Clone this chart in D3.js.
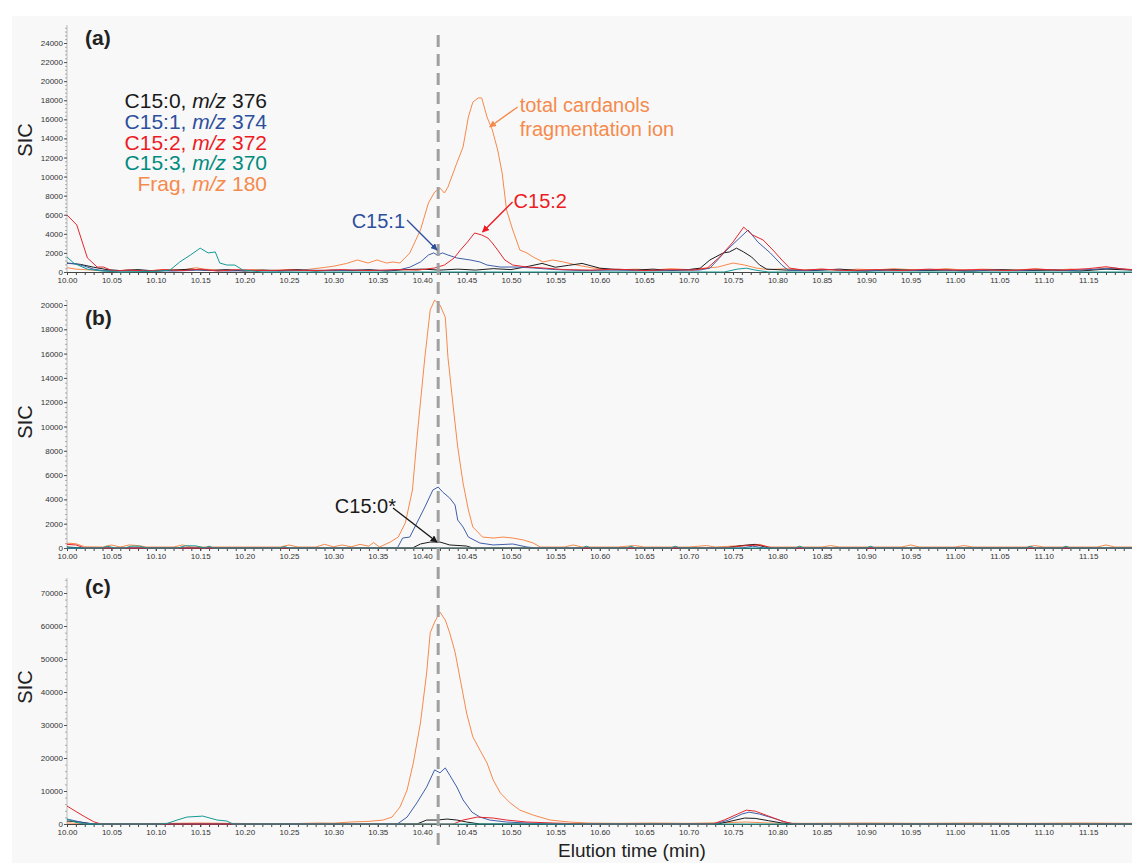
<!DOCTYPE html>
<html>
<head>
<meta charset="utf-8">
<script src="https://cdn.jsdelivr.net/npm/d3@7"></script>
<style>
body { margin: 0; background: #fff; }
svg { display: block; font-family: "Liberation Sans", Arial, sans-serif; }
.tick text { font-family: "Liberation Sans Narrow", "Liberation Sans", Arial, sans-serif; font-size: 8px; fill: #333; }
</style>
</head>
<body>
<svg id="chart" width="1132" height="863"></svg>
<script>
// ---- data: [elution time (min), SIC counts] ----
// panel (a)
const fragA = [[10.00,450],[10.01,300],[10.02,250],[10.035,150],[10.05,100],[10.07,200],[10.09,120],[10.11,250],[10.13,200],[10.145,450],[10.155,300],[10.17,200],[10.19,150],[10.21,250],[10.23,150],[10.25,250],[10.265,200],[10.285,420],[10.30,600],[10.315,900],[10.327,1260],[10.339,940],[10.349,1260],[10.360,940],[10.367,1050],[10.375,940],[10.386,1990],[10.398,4400],[10.407,7230],[10.414,8380],[10.420,8800],[10.425,8280],[10.429,8900],[10.439,11420],[10.446,13100],[10.452,16240],[10.457,17800],[10.463,18240],[10.467,18240],[10.473,16240],[10.479,14880],[10.485,12790],[10.490,10380],[10.495,6500],[10.502,4400],[10.510,2300],[10.518,1990],[10.525,1570],[10.536,1050],[10.547,1260],[10.559,1050],[10.574,730],[10.592,420],[10.619,210],[10.64,300],[10.66,200],[10.68,350],[10.70,250],[10.717,400],[10.733,520],[10.750,940],[10.763,730],[10.777,400],[10.79,250],[10.81,350],[10.83,200],[10.85,300],[10.87,150],[10.89,300],[10.91,200],[10.93,350],[10.95,250],[10.97,200],[10.99,350],[11.01,200],[11.03,300],[11.05,250],[11.07,200],[11.09,350],[11.11,200],[11.13,300],[11.15,200],[11.17,400],[11.19,300],[11.20,250]];
const blackA = [[10.00,940],[10.015,800],[10.03,500],[10.045,250],[10.06,150],[10.08,250],[10.10,100],[10.12,200],[10.14,300],[10.16,150],[10.18,250],[10.20,100],[10.22,200],[10.24,150],[10.26,250],[10.28,100],[10.30,200],[10.32,150],[10.34,250],[10.36,100],[10.38,250],[10.40,300],[10.42,200],[10.44,300],[10.46,200],[10.48,350],[10.50,250],[10.52,600],[10.535,900],[10.55,500],[10.565,700],[10.58,900],[10.60,400],[10.62,250],[10.64,200],[10.66,300],[10.68,150],[10.70,250],[10.713,400],[10.724,1260],[10.739,2000],[10.746,2100],[10.754,2500],[10.762,2100],[10.771,1570],[10.780,730],[10.788,300],[10.81,200],[10.84,150],[10.87,300],[10.90,100],[10.93,250],[10.96,150],[10.99,200],[11.02,100],[11.05,250],[11.08,150],[11.11,200],[11.14,100],[11.17,300],[11.20,200]];
const blueA = [[10.00,900],[10.01,850],[10.02,600],[10.03,300],[10.04,150],[10.06,100],[10.09,150],[10.12,100],[10.15,200],[10.18,100],[10.21,150],[10.24,100],[10.27,200],[10.30,150],[10.33,200],[10.36,150],[10.375,250],[10.386,500],[10.398,1050],[10.407,1780],[10.413,2000],[10.417,1780],[10.423,2000],[10.429,1780],[10.439,1470],[10.454,1260],[10.465,1050],[10.473,730],[10.488,520],[10.507,520],[10.525,420],[10.55,250],[10.58,150],[10.62,200],[10.66,150],[10.70,200],[10.712,200],[10.724,400],[10.743,2300],[10.767,4400],[10.778,3140],[10.792,2000],[10.805,730],[10.812,200],[10.83,150],[10.86,250],[10.89,100],[10.92,200],[10.95,150],[10.98,250],[11.01,100],[11.04,200],[11.07,150],[11.10,250],[11.13,150],[11.16,300],[11.18,400],[11.20,200]];
const redA = [[10.00,5970],[10.011,4930],[10.023,1470],[10.034,520],[10.041,520],[10.052,100],[10.07,200],[10.09,100],[10.11,250],[10.13,150],[10.15,300],[10.17,100],[10.19,250],[10.22,150],[10.25,200],[10.28,150],[10.31,250],[10.34,150],[10.37,250],[10.395,200],[10.414,420],[10.425,730],[10.436,1470],[10.443,2300],[10.451,3140],[10.459,4090],[10.467,3880],[10.474,3560],[10.479,3040],[10.485,2300],[10.493,1260],[10.502,730],[10.518,520],[10.536,420],[10.56,250],[10.59,200],[10.62,300],[10.65,150],[10.68,250],[10.705,200],[10.721,400],[10.735,1570],[10.750,3140],[10.762,4700],[10.772,3880],[10.784,3350],[10.795,2300],[10.805,1260],[10.814,400],[10.83,200],[10.85,300],[10.88,150],[10.91,250],[10.94,150],[10.97,300],[11.00,200],[11.03,250],[11.06,150],[11.09,300],[11.12,200],[11.15,350],[11.17,550],[11.19,300],[11.20,250]];
const tealA = [[10.00,1570],[10.008,900],[10.023,300],[10.04,100],[10.06,0],[10.09,50],[10.105,100],[10.116,200],[10.127,1050],[10.139,1780],[10.150,2500],[10.159,2000],[10.167,2100],[10.172,940],[10.180,730],[10.189,730],[10.198,200],[10.22,0],[10.74,0],[10.755,300],[10.765,400],[10.775,200],[10.79,0],[11.20,0]];

// panel (b)
const fragB = [[10.00,400],[10.01,350],[10.02,100],[10.04,80],[10.05,250],[10.06,80],[10.07,250],[10.08,200],[10.09,80],[10.12,80],[10.13,250],[10.14,80],[10.20,80],[10.24,80],[10.25,250],[10.26,80],[10.28,80],[10.29,300],[10.30,100],[10.31,250],[10.32,100],[10.33,300],[10.34,150],[10.345,450],[10.352,80],[10.364,490],[10.373,900],[10.381,2060],[10.389,4770],[10.395,9710],[10.403,15700],[10.409,19590],[10.414,20400],[10.420,20000],[10.426,19000],[10.429,15700],[10.435,11600],[10.440,8300],[10.446,5350],[10.452,3130],[10.457,1730],[10.468,900],[10.480,820],[10.491,900],[10.502,820],[10.514,660],[10.525,410],[10.533,80],[10.56,80],[10.57,250],[10.58,80],[10.62,80],[10.64,200],[10.65,80],[10.70,80],[10.72,200],[10.73,80],[10.76,200],[10.78,300],[10.79,80],[10.85,80],[10.86,200],[10.87,80],[10.94,80],[10.95,250],[10.96,80],[11.00,80],[11.01,200],[11.02,80],[11.08,80],[11.09,200],[11.10,80],[11.16,80],[11.17,250],[11.18,80],[11.20,80]];
const blackB = [[10.00,80],[10.02,0],[10.389,0],[10.398,330],[10.409,490],[10.420,490],[10.431,250],[10.450,160],[10.457,0],[10.74,0],[10.76,200],[10.775,300],[10.79,0],[11.20,0]];
const blueB = [[10.00,0],[10.372,0],[10.378,820],[10.386,900],[10.394,2060],[10.403,3370],[10.412,4770],[10.418,5020],[10.423,4610],[10.431,4110],[10.437,3540],[10.440,2300],[10.446,1730],[10.452,900],[10.465,410],[10.480,250],[10.502,330],[10.518,80],[10.53,0],[10.76,0],[10.772,150],[10.785,0],[11.20,0]];
const redB = [[10.00,300],[10.01,250],[10.02,0],[10.74,0],[10.765,200],[10.78,250],[10.795,0],[11.20,0]];
const tealB = [[10.00,0],[10.04,0],[10.045,150],[10.055,0],[10.065,0],[10.072,150],[10.082,150],[10.09,0],[10.125,0],[10.133,180],[10.145,180],[10.155,0],[10.16,150],[10.165,0],[10.24,0],[10.245,120],[10.25,0],[10.58,0],[10.585,150],[10.59,0],[10.63,0],[10.635,150],[10.64,0],[10.68,0],[10.685,150],[10.69,0],[10.82,0],[10.825,150],[10.83,0],[10.90,0],[10.905,150],[10.91,0],[11.08,0],[11.085,150],[11.09,0],[11.12,0],[11.125,150],[11.13,0],[11.20,0]];

// panel (c)
const fragC = [[10.00,300],[10.02,150],[10.05,100],[10.10,150],[10.15,300],[10.20,150],[10.25,100],[10.285,300],[10.30,250],[10.319,600],[10.340,800],[10.356,1200],[10.366,2100],[10.375,5150],[10.383,10300],[10.390,18500],[10.398,30600],[10.405,45750],[10.409,57900],[10.414,61200],[10.420,64200],[10.426,61800],[10.431,57900],[10.437,52100],[10.443,43600],[10.450,33600],[10.457,26400],[10.465,22400],[10.473,18500],[10.480,13300],[10.488,9400],[10.499,6400],[10.510,4200],[10.525,2700],[10.544,1200],[10.566,600],[10.586,300],[10.62,200],[10.66,300],[10.70,200],[10.74,400],[10.765,600],[10.79,300],[10.83,200],[10.90,300],[10.96,200],[11.02,300],[11.08,200],[11.14,300],[11.20,200]];
const blackC = [[10.00,900],[10.015,600],[10.03,0],[10.394,0],[10.405,1200],[10.417,1200],[10.428,1500],[10.439,1200],[10.450,600],[10.465,0],[10.733,0],[10.75,1000],[10.763,1800],[10.775,1700],[10.79,1000],[10.805,300],[10.815,0],[11.20,0]];
const blueC = [[10.00,1500],[10.01,900],[10.02,300],[10.03,0],[10.372,0],[10.383,2100],[10.394,6400],[10.405,11200],[10.414,16400],[10.420,15500],[10.426,17000],[10.431,14800],[10.439,11200],[10.446,7300],[10.456,3600],[10.465,2100],[10.476,1200],[10.495,600],[10.518,300],[10.54,0],[10.73,0],[10.745,1200],[10.76,3000],[10.768,3600],[10.78,3000],[10.795,1800],[10.81,500],[10.82,0],[11.20,0]];
const redC = [[10.00,5450],[10.01,3800],[10.02,2200],[10.03,700],[10.038,0],[10.435,0],[10.446,1200],[10.462,2100],[10.480,1800],[10.495,1200],[10.518,600],[10.547,300],[10.586,0],[10.727,0],[10.74,1200],[10.755,3000],[10.765,4200],[10.775,3900],[10.79,2400],[10.805,900],[10.818,0],[11.20,0]];
const tealC = [[10.00,1500],[10.01,500],[10.02,0],[10.105,0],[10.113,200],[10.124,1200],[10.135,2100],[10.153,2400],[10.169,1200],[10.180,900],[10.187,0],[11.20,0]];

const seriesNames = ['frag', 'black', 'blue', 'red', 'teal'];
const lineColors = { frag: '#f7894c', black: '#1c1c1c', blue: '#3f5fa9', red: '#e5262d', teal: '#139a93' };
const legendRows = [
  { name: 'C15:0', mz: '376', color: '#1a1a1a' },
  { name: 'C15:1', mz: '374', color: '#2c4f9e' },
  { name: 'C15:2', mz: '372', color: '#ed1c24' },
  { name: 'C15:3', mz: '370', color: '#008b80' },
  { name: 'Frag', mz: '180', color: '#f58a4d' }
];
const panelLabels = ['(a)', '(b)', '(c)'];
const yMax = [24000, 20000, 70000];
const yStep = [2000, 2000, 10000];
const xMajor = d3.range(0, 24).map(i => +(10 + i * 0.05).toFixed(2));
const xMinor = d3.range(0, 120).map(i => +(10 + i * 0.01).toFixed(2));
const markerTime = 10.418;

const panelData = [
  { frag: fragA, black: blackA, blue: blueA, red: redA, teal: tealA },
  { frag: fragB, black: blackB, blue: blueB, red: redB, teal: tealB },
  { frag: fragC, black: blackC, blue: blueC, red: redC, teal: tealC }
];

// annotation arrows: tip sits on a data point
const annotations = [
  { panel: 0, t: 10.476, v: 15200, lines: ['total cardanols', 'fragmentation ion'], color: '#f58a4d', dx: 28, dy: -20, anchor: 'start', tx: 2, ty: 5 },
  { panel: 0, t: 10.4167, v: 2300, lines: ['C15:1'], color: '#2c4f9e', dx: -30, dy: -30, anchor: 'end', tx: -2, ty: 8 },
  { panel: 0, t: 10.468, v: 4190, lines: ['C15:2'], color: '#ed1c24', dx: 30, dy: -30, anchor: 'start', tx: 1, ty: 6 },
  { panel: 1, t: 10.4167, v: 490, lines: ['C15:0*'], color: '#1a1a1a', dx: -44, dy: -34, anchor: 'end', tx: 3, ty: 5 }
];

// ---- layout ----
const svg = d3.select('#chart');
const W = 1132;
svg.append('rect').attr('x', 12).attr('y', 16).attr('width', W - 12).attr('height', 863 - 16).attr('fill', '#f8f8f8');

const x = d3.scaleLinear().domain([10, 11.2]).range([67, 67 + 888 * 1.2]);
const panelBox = [
  { bottom: 272, top: 43, axisTop: 25, labelY: 45, sicY: 140 },
  { bottom: 548, top: 305, axisTop: 300, labelY: 325, sicY: 422 },
  { bottom: 824, top: 593, axisTop: 578, labelY: 594, sicY: 687 }
];

const defs = svg.append('defs');
function marker(color) {
  const id = 'arr' + color.replace('#', '');
  if (defs.select('#' + id).empty()) {
    defs.append('marker').attr('id', id)
      .attr('viewBox', '0 0 10 10').attr('refX', 9).attr('refY', 5)
      .attr('markerWidth', 7).attr('markerHeight', 7).attr('markerUnits', 'userSpaceOnUse')
      .attr('orient', 'auto')
      .append('path').attr('d', 'M0,0 L10,5 L0,10 z').attr('fill', color);
  }
  return 'url(#' + id + ')';
}

const yScales = [];
panelBox.forEach((p, i) => {
  const y = d3.scaleLinear().domain([0, yMax[i]]).range([p.bottom, p.top]);
  yScales.push(y);
  const g = svg.append('g');

  // y axis: dotted-looking spine with minor ticks
  g.append('line').attr('x1', 67).attr('x2', 67).attr('y1', p.bottom).attr('y2', p.axisTop)
    .attr('stroke', '#bbb').attr('stroke-width', 1);
  const minorY = d3.range(0, y.invert(p.axisTop), yStep[i] / 5);
  g.append('g').attr('transform', 'translate(67,0)')
    .call(d3.axisLeft(y).tickValues(minorY).tickSize(2).tickFormat(''))
    .call(s => s.select('.domain').remove())
    .selectAll('line').attr('stroke', '#aaa');
  g.append('g').attr('transform', 'translate(67,0)')
    .call(d3.axisLeft(y).tickValues(d3.range(0, yMax[i] + 1, yStep[i])).tickSize(3).tickPadding(1).tickFormat(d3.format('d')))
    .call(s => s.select('.domain').remove())
    .call(s => s.selectAll('line').attr('stroke', '#555'));

  // x axis
  g.append('g').attr('transform', `translate(0,${p.bottom})`)
    .call(d3.axisBottom(x).tickValues(xMinor).tickSize(3).tickFormat(''))
    .call(s => s.select('.domain').attr('stroke', '#444'))
    .selectAll('line').attr('stroke', '#444');
  g.append('g').attr('transform', `translate(0,${p.bottom})`)
    .call(d3.axisBottom(x).tickValues(xMajor).tickSize(3).tickPadding(2).tickFormat(d3.format('.2f')))
    .call(s => s.select('.domain').remove())
    .call(s => s.selectAll('line').attr('stroke', '#444'));

  // traces
  const line = d3.line().x(d => x(d[0])).y(d => y(d[1]));
  seriesNames.forEach(k => {
    g.append('path').datum(panelData[i][k])
      .attr('d', line).attr('fill', 'none')
      .attr('stroke', lineColors[k]).attr('stroke-width', 1)
      .attr('stroke-linejoin', 'round');
  });

  // panel letter and y title
  svg.append('text').attr('x', 85).attr('y', p.labelY)
    .attr('font-size', 21).attr('font-weight', 'bold').attr('fill', '#222').text(panelLabels[i]);
  svg.append('text').attr('transform', `translate(32,${p.sicY}) rotate(-90)`)
    .attr('text-anchor', 'middle').attr('font-size', 20).attr('fill', '#222').text('SIC');
});

// legend in panel (a)
const legend = svg.append('g');
legendRows.forEach((r, i) => {
  const t = legend.append('text').attr('x', 267).attr('y', 108 + i * 20.8)
    .attr('text-anchor', 'end').attr('font-size', 21).attr('fill', r.color);
  t.append('tspan').text(r.name + ', ');
  t.append('tspan').attr('font-style', 'italic').text('m/z');
  t.append('tspan').text(' ' + r.mz);
});

// vertical dashed reference line
svg.append('line')
  .attr('x1', x(markerTime)).attr('x2', x(markerTime))
  .attr('y1', 35).attr('y2', 852)
  .attr('stroke', '#a0a0a0').attr('stroke-width', 3).attr('stroke-dasharray', '12,7');

// annotations
annotations.forEach(a => {
  const tipX = x(a.t), tipY = yScales[a.panel](a.v);
  const tailX = tipX + a.dx, tailY = tipY + a.dy;
  svg.append('line').attr('x1', tailX).attr('y1', tailY).attr('x2', tipX).attr('y2', tipY)
    .attr('stroke', a.color).attr('stroke-width', 1.4).attr('marker-end', marker(a.color));
  const t = svg.append('text').attr('font-size', 20).attr('fill', a.color).attr('text-anchor', a.anchor);
  a.lines.forEach((s, j) => {
    t.append('tspan').attr('x', tailX + a.tx).attr('y', tailY + a.ty + j * 24).text(s);
  });
});

// x title
svg.append('text').attr('x', 632).attr('y', 857).attr('text-anchor', 'middle')
  .attr('font-size', 19).attr('fill', '#222').text('Elution time (min)');
</script>
</body>
</html>
